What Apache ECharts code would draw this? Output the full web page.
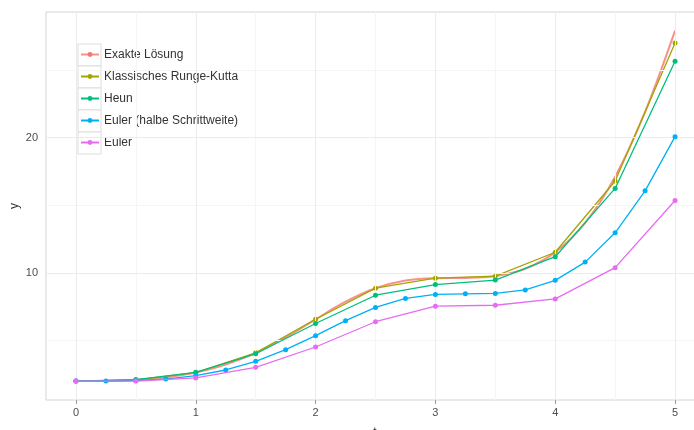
<!DOCTYPE html>
<html>
<head>
<meta charset="utf-8">
<script src="https://cdn.jsdelivr.net/npm/echarts@6/dist/echarts.min.js"></script>
<style>
  html, body { margin: 0; padding: 0; background: #ffffff; }
  #chart { width: 694px; height: 430px; }
</style>
</head>
<body>
<div id="chart"></div>
<script>
// y' = y * sin(t)^2, y(0) = 2 — numerical methods compared with the exact solution
var seriesNames = ['Exakte Lösung', 'Klassisches Runge-Kutta', 'Heun', 'Euler (halbe Schrittweite)', 'Euler'];
var seriesColors = ['#F8766D', '#A3A500', '#00BF7D', '#00B0F6', '#E76BF3'];
var xTitle = 't';
var yTitle = 'y';

// time grids
var tFine = [0, 0.25, 0.5, 0.75, 1, 1.25, 1.5, 1.75, 2, 2.25, 2.5, 2.75, 3, 3.25, 3.5, 3.75, 4, 4.25, 4.5, 4.75, 5];
var tStep = [0, 0.5, 1, 1.5, 2, 2.5, 3, 3.5, 4, 4.5, 5];

// values
var exact     = [2, 2.01, 2.08, 2.27, 2.63, 3.22, 4.09, 5.24, 6.57, 7.87, 8.87, 9.44, 9.61, 9.63, 9.77, 10.31, 11.54, 13.71, 17.12, 21.91, 27.92];
var rungeKutta = [2, 2.08, 2.63, 4.09, 6.57, 8.87, 9.61, 9.76, 11.53, 16.8, 27.0];
var heun      = [2, 2.11, 2.65, 4.02, 6.26, 8.35, 9.14, 9.47, 11.20, 16.25, 25.65];
var eulerHalf = [2, 2, 2.03, 2.15, 2.40, 2.82, 3.46, 4.32, 5.36, 6.47, 7.45, 8.11, 8.41, 8.45, 8.48, 8.74, 9.45, 10.80, 12.97, 16.07, 20.08];
var euler     = [2, 2, 2.23, 3.02, 4.52, 6.39, 7.54, 7.61, 8.08, 10.39, 15.36];

// axis breaks
var xTicks = [0, 1, 2, 3, 4, 5];
var xMinor = [0.5, 1.5, 2.5, 3.5, 4.5];
var yTicks = [10, 20];
var yMinor = [5, 15, 25];

function pairs(xs, ys) {
  return xs.map(function (x, i) { return [x, ys[i]]; });
}

var dataSets = [
  pairs(tFine, exact),
  pairs(tStep, rungeKutta),
  pairs(tStep, heun),
  pairs(tFine, eulerHalf),
  pairs(tStep, euler)
];

var majorColor = '#ebebeb';
var minorColor = '#f5f5f5';

var gridLines = []
  .concat(xMinor.map(function (v) { return { xAxis: v, lineStyle: { color: minorColor, width: 1, type: 'solid' } }; }))
  .concat(yMinor.map(function (v) { return { yAxis: v, lineStyle: { color: minorColor, width: 1, type: 'solid' } }; }))
  .concat(xTicks.map(function (v) { return { xAxis: v, lineStyle: { color: majorColor, width: 1, type: 'solid' } }; }))
  .concat(yTicks.map(function (v) { return { yAxis: v, lineStyle: { color: majorColor, width: 1, type: 'solid' } }; }));

var series = [{
  name: 'grid',
  type: 'line',
  data: [],
  z: 1,
  silent: true,
  markLine: {
    silent: true,
    symbol: ['none', 'none'],
    label: { show: false },
    animation: false,
    data: gridLines
  }
}];

dataSets.forEach(function (d, i) {
  var isExact = i === 0;
  series.push({
    name: seriesNames[i],
    type: 'line',
    data: d,
    z: 3 + i,
    smooth: isExact ? 0.35 : false,
    symbol: 'circle',
    symbolSize: 5,
    showSymbol: !isExact,
    lineStyle: { color: seriesColors[i], width: isExact ? 2 : 1.3, opacity: isExact ? 0.8 : 1 },
    itemStyle: { color: seriesColors[i] },
    emphasis: { disabled: true },
    animation: false
  });
});

// legend key frames
var graphics = seriesNames.map(function (n, i) {
  return {
    type: 'rect',
    left: 77.5,
    top: 43.5 + 22 * i,
    shape: { width: 23, height: 22 },
    style: { fill: '#ffffff', stroke: '#dddddd', lineWidth: 1 },
    z: 0
  };
});

// axis titles
graphics.push({
  type: 'text',
  x: 375, y: 433,
  style: { text: xTitle, fontSize: 12, fill: '#333333', align: 'center', verticalAlign: 'middle',
           fontFamily: 'Liberation Sans, Arial, sans-serif' }
});
graphics.push({
  type: 'text',
  x: 15, y: 206,
  rotation: Math.PI / 2,
  style: { text: yTitle, fontSize: 12, fill: '#333333', align: 'center', verticalAlign: 'middle',
           fontFamily: 'Liberation Sans, Arial, sans-serif' }
});

var chart = echarts.init(document.getElementById('chart'), null, { renderer: 'canvas' });
chart.setOption({
  backgroundColor: '#ffffff',
  animation: false,
  textStyle: { fontFamily: 'Liberation Sans, Arial, sans-serif' },
  grid: {
    left: 46, right: -11, top: 12, bottom: 30,
    outerBoundsMode: 'none',
    containLabel: false,
    show: true, borderColor: '#d4d4d4', borderWidth: 1, backgroundColor: 'transparent'
  },
  graphic: graphics,
  legend: {
    data: seriesNames,
    orient: 'vertical',
    left: 80,
    top: 48.5,
    padding: 0,
    itemWidth: 18,
    itemHeight: 6,
    itemGap: 10,
    itemTextGap: 4,
    textStyle: { fontSize: 12, lineHeight: 12, color: '#333333', fontFamily: 'Liberation Sans, Arial, sans-serif' },
    selectedMode: false,
    z: 5
  },
  xAxis: {
    type: 'value',
    min: -0.25,
    max: 5.25,
    axisLine: { show: false },
    axisTick: { show: true, length: 4, customValues: xTicks, lineStyle: { color: '#999999' } },
    axisLabel: { customValues: xTicks, margin: 7, fontSize: 11, color: '#4d4d4d' },
    splitLine: { show: false }
  },
  yAxis: {
    type: 'value',
    min: 0.6,
    max: 29.3,
    axisLine: { show: false },
    axisTick: { show: true, length: 4, customValues: yTicks, lineStyle: { color: '#999999' } },
    axisLabel: { customValues: yTicks, margin: 8, fontSize: 11, color: '#4d4d4d' },
    splitLine: { show: false }
  },
  series: series
});
</script>
</body>
</html>
